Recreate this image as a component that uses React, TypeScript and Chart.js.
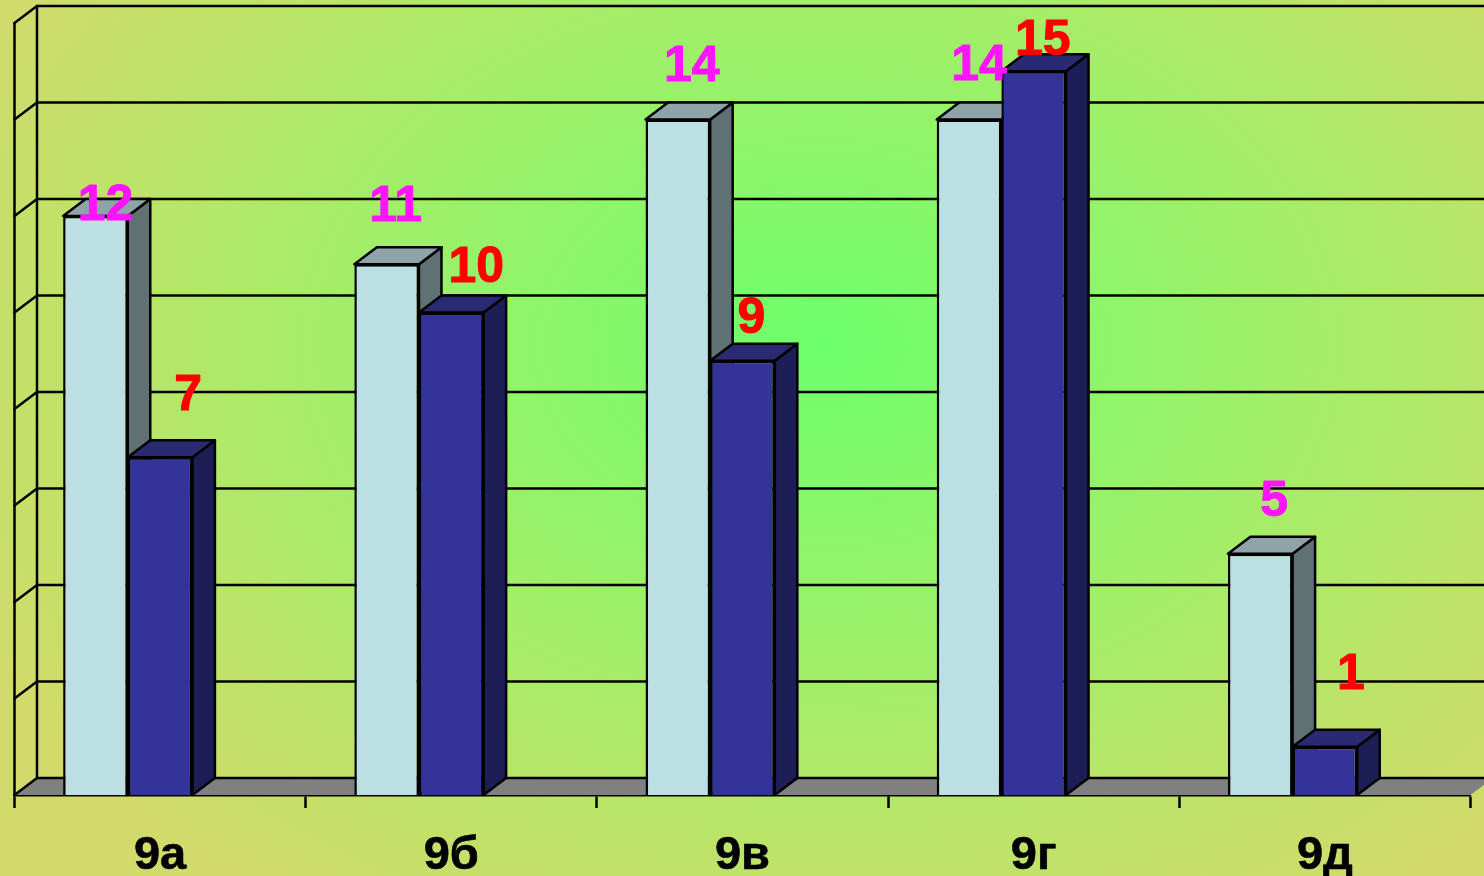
import React, { useEffect, useRef } from "react";
import { Chart, registerables } from "chart.js";

Chart.register(...registerables);

const categories = ["9а", "9б", "9в", "9г", "9д"];
const lightValues = [12, 11, 14, 14, 5];
const darkValues = [7, 10, 9, 15, 1];
// The source chart reserves a third, empty slot in every group.
const emptyValues = [null, null, null, null, null];
const yMax = 16;
const yStep = 2;

// Hand-placed value labels in the source: centre offset from the bar's top-centre.
const lightLabelNudge = [[10, -12], [9, -59], [14, -54], [10, -55], [14, -54]];
const darkLabelNudge = [[28, -63], [25, -46], [9, -44], [9, -32], [26, -74]];

const DX = 22.5;
const DY = -17;
const LINE = 2.5;

const box3d = {
  id: "box3d",
  beforeDatasetsDraw(chart: any) {
    const { ctx, chartArea: a, scales } = chart;
    const y = scales.y;
    const top = y.getPixelForValue(yMax);
    const bottom = y.getPixelForValue(0);
    ctx.save();
    ctx.strokeStyle = "#000";
    ctx.lineWidth = LINE;
    ctx.lineCap = "round";

    // floor
    ctx.fillStyle = "#808080";
    ctx.beginPath();
    ctx.moveTo(a.left, bottom);
    ctx.lineTo(a.left + DX, bottom + DY);
    ctx.lineTo(a.right + DX, bottom + DY);
    ctx.lineTo(a.right, bottom);
    ctx.closePath();
    ctx.fill();

    // grid lines on the side and back walls
    for (let v = 0; v <= yMax; v += yStep) {
      const py = y.getPixelForValue(v);
      ctx.beginPath();
      ctx.moveTo(a.left, py);
      ctx.lineTo(a.left + DX, py + DY);
      ctx.lineTo(a.right + DX, py + DY);
      ctx.stroke();
    }
    ctx.beginPath();
    ctx.moveTo(a.left, top);
    ctx.lineTo(a.left, bottom);
    ctx.moveTo(a.left + DX, top + DY);
    ctx.lineTo(a.left + DX, bottom + DY);
    ctx.stroke();

    // side and top faces of the bars
    ctx.lineJoin = "round";
    const faces = [
      { side: "#5f7173", top: "#8ea4a9" },
      { side: "#1e1e56", top: "#2a2a72" },
    ];
    const n = chart.data.labels.length;
    for (let i = 0; i < n; i++) {
      [0, 1].forEach((d) => {
        const el = chart.getDatasetMeta(d).data[i];
        const hw = el.width / 2;
        const l = el.x - hw;
        const r = el.x + hw;
        const t = el.y;
        const b = el.base;
        ctx.fillStyle = faces[d].side;
        ctx.beginPath();
        ctx.moveTo(r, t);
        ctx.lineTo(r + DX, t + DY);
        ctx.lineTo(r + DX, b + DY);
        ctx.lineTo(r, b);
        ctx.closePath();
        ctx.fill();
        ctx.stroke();
        ctx.fillStyle = faces[d].top;
        ctx.beginPath();
        ctx.moveTo(l, t);
        ctx.lineTo(l + DX, t + DY);
        ctx.lineTo(r + DX, t + DY);
        ctx.lineTo(r, t);
        ctx.closePath();
        ctx.fill();
        ctx.stroke();
      });
    }
    ctx.restore();
  },
  afterDatasetsDraw(chart: any) {
    const { ctx } = chart;
    ctx.save();
    ctx.font = "bold 50px 'Liberation Sans', Arial, sans-serif";
    ctx.textAlign = "center";
    ctx.textBaseline = "middle";
    ctx.lineWidth = 1;
    ctx.lineJoin = "round";
    const sets = [
      { color: "#ff14ff", nudge: lightLabelNudge },
      { color: "#ff0000", nudge: darkLabelNudge },
    ];
    sets.forEach((s, d) => {
      chart.getDatasetMeta(d).data.forEach((el: any, i: number) => {
        const text = String(chart.data.datasets[d].data[i]);
        const tx = el.x + s.nudge[i][0];
        const ty = el.y + s.nudge[i][1] + 2;
        ctx.fillStyle = s.color;
        ctx.strokeStyle = s.color;
        ctx.fillText(text, tx, ty);
        ctx.strokeText(text, tx, ty);
      });
    });
    ctx.restore();
  },
};

export default function App() {
  const ref = useRef<HTMLCanvasElement>(null);
  useEffect(() => {
    const barStyle = {
      borderColor: "#000",
      borderWidth: LINE,
      barPercentage: 1,
      categoryPercentage: 0.666,
    };
    const chart = new Chart(ref.current as HTMLCanvasElement, {
      type: "bar",
      data: {
        labels: categories,
        datasets: [
          { label: "Ряд 1", data: lightValues, backgroundColor: "#bbdfe3", ...barStyle },
          { label: "Ряд 2", data: darkValues, backgroundColor: "#333399", ...barStyle },
          { label: "Ряд 3", data: emptyValues, backgroundColor: "transparent", ...barStyle },
        ],
      },
      options: {
        animation: false,
        responsive: false,
        maintainAspectRatio: false,
        layout: { padding: { left: 14.5, right: 13.5, top: 23, bottom: 0 } },
        plugins: {
          legend: { display: false },
          tooltip: { enabled: false },
          title: { display: false },
        },
        scales: {
          x: {
            offset: true,
            afterFit(scale: any) {
              scale.height = 81;
            },
            grid: {
              drawOnChartArea: false,
              drawTicks: true,
              tickLength: 13,
              tickColor: "#000",
              tickWidth: 2.5,
              offset: true,
            },
            border: { display: true, color: "#000", width: 2.5 },
            ticks: {
              color: "#000",
              padding: 20,
              maxRotation: 0,
              autoSkip: false,
              textStrokeColor: "#000",
              textStrokeWidth: 0.6,
              font: { family: "'Liberation Sans', Arial, sans-serif", size: 47, weight: "bold" },
            },
          },
          y: {
            display: false,
            min: 0,
            max: yMax,
            ticks: { stepSize: yStep },
          },
        },
      },
      plugins: [box3d],
    } as any);
    return () => chart.destroy();
  }, []);
  return (
    <div
      style={{
        position: "fixed",
        left: 0,
        top: 0,
        width: 1484,
        height: 876,
        overflow: "hidden",
        background:
          "radial-gradient(ellipse 960px 680px at 820px 345px, #6cff6c 0%, #8cf669 28%, #a8ec68 55%, #bfe268 78%, #d3da6c 100%)",
      }}
    >
      <canvas ref={ref} width={1484} height={876} style={{ display: "block" }} />
    </div>
  );
}
